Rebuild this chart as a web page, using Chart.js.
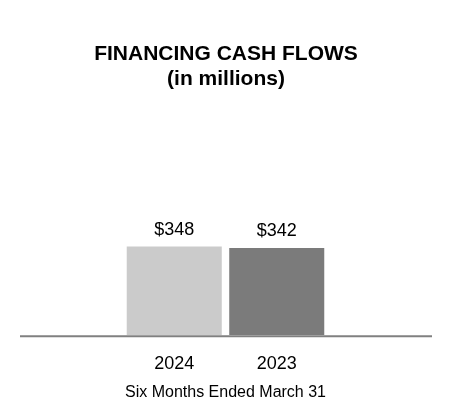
<!DOCTYPE html>
<html>
<head>
<meta charset="utf-8">
<script src="https://cdn.jsdelivr.net/npm/chart.js@4"></script>
<style>
  html, body { margin: 0; padding: 0; background: #ffffff; }
  #wrap { width: 452px; height: 420px; }
</style>
</head>
<body>
<div id="wrap"><canvas id="c" width="452" height="420"></canvas></div>
<script>
const categories = ['2024', '2023'];
const financingCashFlows = [348, 342];
const barColors = ['#cbcbcb', '#7b7b7b'];
const chartTitle = ['FINANCING CASH FLOWS', '(in millions)'];
const xAxisTitle = 'Six Months Ended March 31';

const FONT = '"Liberation Sans", Arial, Helvetica, sans-serif';

const valueLabels = {
  id: 'valueLabels',
  afterDatasetsDraw(chart) {
    const ctx = chart.ctx;
    const meta = chart.getDatasetMeta(0);
    ctx.save();
    ctx.font = '18px ' + FONT;
    ctx.fillStyle = '#000000';
    ctx.textAlign = 'center';
    ctx.textBaseline = 'alphabetic';
    meta.data.forEach((bar, i) => {
      ctx.fillText('$' + financingCashFlows[i], bar.x, bar.y - 12);
    });
    ctx.restore();
  }
};

const baseLine = {
  id: 'baseLine',
  afterDatasetsDraw(chart) {
    const ctx = chart.ctx;
    const y = chart.scales.y.getPixelForValue(0);
    ctx.save();
    ctx.strokeStyle = '#808080';
    ctx.lineWidth = 2;
    ctx.beginPath();
    ctx.moveTo(20, y + 1);
    ctx.lineTo(432, y + 1);
    ctx.stroke();
    ctx.restore();
  }
};

const hiddenSide = (w, pos) => ({
  display: true,
  position: pos,
  min: 0,
  max: 900,
  grid: { display: false, drawTicks: false },
  border: { display: false },
  ticks: { display: false },
  afterFit(scale) { scale.width = w; }
});

new Chart(document.getElementById('c'), {
  type: 'bar',
  data: {
    labels: categories,
    datasets: [{
      data: financingCashFlows,
      backgroundColor: barColors,
      borderWidth: 0,
      barPercentage: 0.927,
      categoryPercentage: 1.0,
      yAxisID: 'y'
    }]
  },
  options: {
    responsive: false,
    animation: false,
    devicePixelRatio: 1,
    layout: { padding: { left: 0, right: 0, top: 0, bottom: 18 } },
    plugins: {
      legend: { display: false },
      tooltip: { enabled: false },
      title: {
        display: true,
        text: chartTitle,
        color: '#000000',
        font: { family: FONT, size: 21, weight: 'bold', lineHeight: 1.1667 },
        padding: { top: 42, bottom: 15 }
      }
    },
    scales: {
      y: hiddenSide(123, 'left'),
      y2: hiddenSide(124, 'right'),
      x: {
        grid: { display: false, drawTicks: false },
        border: { display: false },
        ticks: {
          color: '#000000',
          font: { family: FONT, size: 18 },
          padding: 18
        },
        title: {
          display: true,
          text: xAxisTitle,
          color: '#000000',
          font: { family: FONT, size: 16 },
          padding: { top: -10, bottom: 0 }
        }
      }
    }
  },
  plugins: [valueLabels, baseLine]
});
</script>
</body>
</html>
